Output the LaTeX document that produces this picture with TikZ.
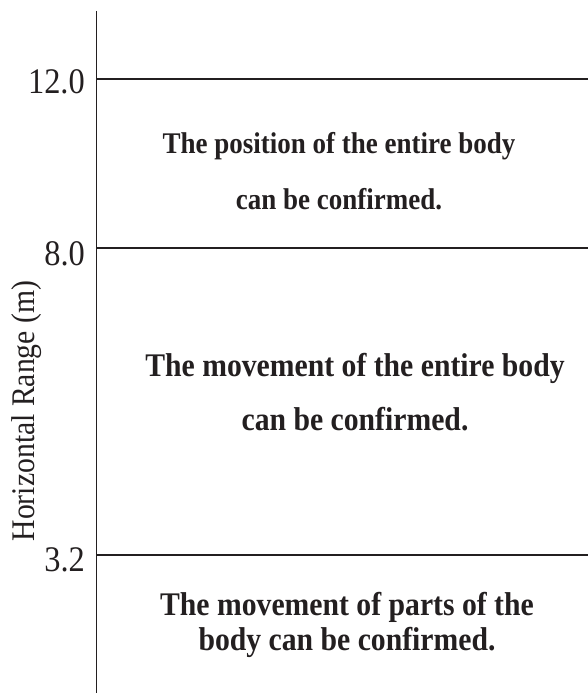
\documentclass[tikz,border=0pt]{standalone}
\usepackage{fontspec}
\setmainfont[FakeStretch=0.9]{Liberation Serif}
\definecolor{ink}{HTML}{231F20}
\begin{document}
\begin{tikzpicture}[x=1pt,y=-1pt,
  rule/.style={draw=ink,line width=1.4pt},
  tick/.style={anchor=base east,inner sep=0pt,text=ink,font=\fontsize{36}{36}\selectfont},
  zonetext/.style={align=center,inner sep=0pt,text=ink},
]
\useasboundingbox (0,0) rectangle (588,693);
\coordinate (axtop) at (96.5,11);
\coordinate (axbot) at (96.5,693);
\draw[rule] (axtop) -- (axbot);
\coordinate (l12) at (96.5,79);
\coordinate (r12) at (588,79);
\coordinate (l8) at (96.5,248);
\coordinate (r8) at (588,248);
\coordinate (l3) at (96.5,555);
\coordinate (r3) at (588,555);
\draw[rule] (l12) -- (r12);
\draw[rule] (l8) -- (r8);
\draw[rule] (l3) -- (r3);
\node[tick] (t12) at (85,93) {12.0};
\node[tick] (t8) at (85,265) {8.0};
\node[tick] (t3) at (85,571) {3.2};
\node[rotate=90,inner sep=0pt,text=ink,font=\fontsize{33}{33}\selectfont] (ylab) at (27,411) {Horizontal Range (m)};
\node[zonetext,font=\bfseries\fontsize{30}{56}\selectfont] (ztop) at (339,171) {The position of the entire body\\can be confirmed.};
\node[zonetext,font=\bfseries\fontsize{33}{54}\selectfont] (zmid) at (355,392) {The movement of the entire body\\can be confirmed.};
\node[zonetext,font=\bfseries\fontsize{33}{35}\selectfont] (zbot) at (347,625) {The movement of parts of the\\body can be confirmed.};
\end{tikzpicture}
\end{document}
